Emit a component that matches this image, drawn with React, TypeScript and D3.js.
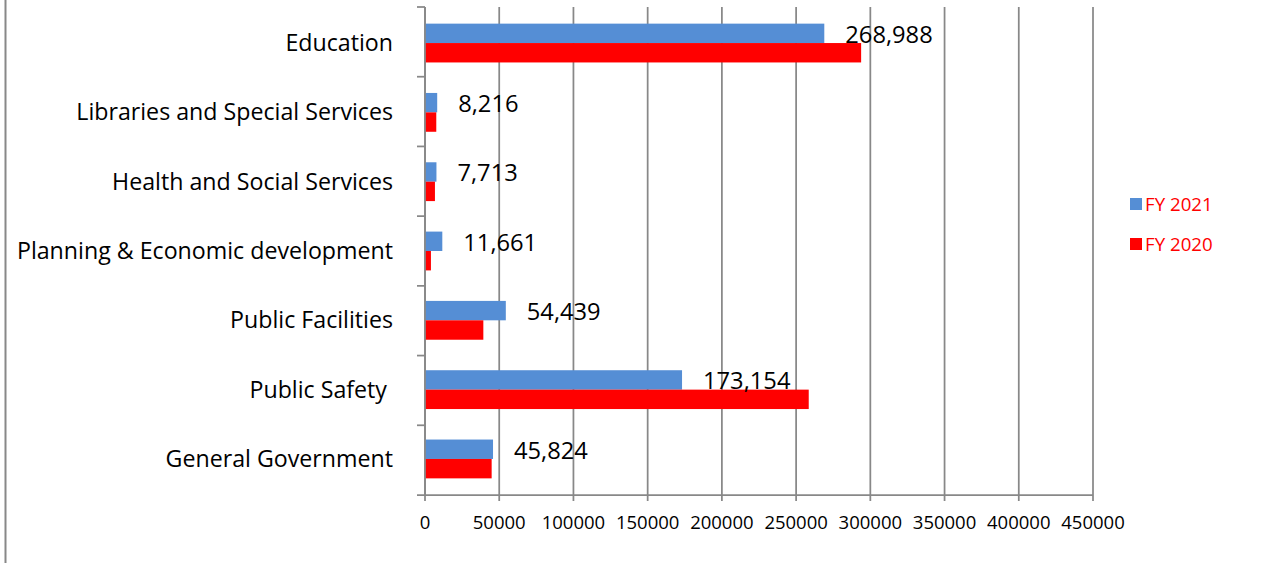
import React from "react";
import * as d3 from "d3";

const categories = [
  "Education",
  "Libraries and Special Services",
  "Health and Social Services",
  "Planning & Economic development",
  "Public Facilities",
  "Public Safety ",
  "General Government",
];
const fy2021 = [268988, 8216, 7713, 11661, 54439, 173154, 45824];
const fy2020 = [293800, 7600, 6700, 4000, 39300, 258500, 44900];
const xTicks = [0, 50000, 100000, 150000, 200000, 250000, 300000, 350000, 400000, 450000];
const seriesNames = ["FY 2021", "FY 2020"];
const seriesColors = ["#558ED5", "#FF0000"];

const W = 1269;
const H = 563;
const FONT = "'Open Sans', sans-serif";

export default function App() {
  const x = d3.scaleLinear().domain([0, 450000]).range([425, 1093]);
  const y = d3.scaleBand<string>().domain(categories).range([7, 495]).paddingInner(0.44).paddingOuter(0.24).align(0.5);
  const inner = d3.scaleBand<number>().domain([0, 1]).range([0, y.bandwidth()]);
  const fmt = d3.format(",");
  const gridColor = "#888888";
  const [y0, y1] = [7, 495];

  return (
    <svg width={W} height={H} style={{ position: "absolute", left: 0, top: 0, background: "#fff" }} fontFamily={FONT}>
      <rect x={0} y={0} width={W} height={H} fill="#fff" />
      {/* outer left border */}
      <line x1={5.5} x2={5.5} y1={0} y2={H} stroke={gridColor} strokeWidth={2} />
      {/* gridlines */}
      {xTicks.map((t) => (
        <line key={"g" + t} x1={x(t)} x2={x(t)} y1={y0} y2={y1 + 6} stroke={gridColor} strokeWidth={1.75} />
      ))}
      {/* bars */}
      {categories.map((c, i) => (
        <g key={c}>
          {[fy2021, fy2020].map((s, k) => (
            <rect
              key={k}
              x={x(0)}
              y={(y(c) as number) + (inner(k) as number)}
              width={x(s[i]) - x(0)}
              height={inner.bandwidth()}
              fill={seriesColors[k]}
            />
          ))}
        </g>
      ))}
      {/* axes */}
      <line x1={x(0)} x2={x(0)} y1={y0} y2={y1} stroke={gridColor} strokeWidth={1.75} />
      <line x1={x(0) - 8} x2={x(450000)} y1={y1} y2={y1} stroke={gridColor} strokeWidth={1.75} />
      {categories.map((c, i) => {
        const yt = y0 + ((y1 - y0) / categories.length) * i;
        return <line key={"t" + c} x1={x(0) - 8} x2={x(0)} y1={yt} y2={yt} stroke={gridColor} strokeWidth={1.75} />;
      })}
      {/* category labels */}
      {categories.map((c) => (
        <text
          key={"l" + c}
          x={393}
          y={(y(c) as number) + y.bandwidth() / 2}
          dy="0.35em"
          textAnchor="end"
          fontSize={23.2}
          fill="#000"
          style={{ whiteSpace: "pre" }}
        >
          {c}
        </text>
      ))}
      {/* tick labels */}
      {xTicks.map((t) => (
        <text key={"x" + t} x={x(t)} y={523} dy="0.35em" textAnchor="middle" fontSize={18.5} fill="#000">
          {t}
        </text>
      ))}
      {/* data labels */}
      {categories.map((c, i) => (
        <text
          key={"d" + c}
          x={x(fy2021[i]) + 21}
          y={(y(c) as number) + inner.bandwidth() / 2 + 1}
          dy="0.35em"
          fontSize={23.7}
          fill="#000"
        >
          {fmt(fy2021[i])}
        </text>
      ))}
      {/* legend */}
      {seriesNames.map((n, k) => (
        <g key={n} transform={`translate(1130, ${198 + k * 40})`}>
          <rect x={0} y={0} width={12} height={12} fill={seriesColors[k]} />
          <text x={15} y={6} dy="0.35em" fontSize={18.7} fill="#FF0000">
            {n}
          </text>
        </g>
      ))}
    </svg>
  );
}
